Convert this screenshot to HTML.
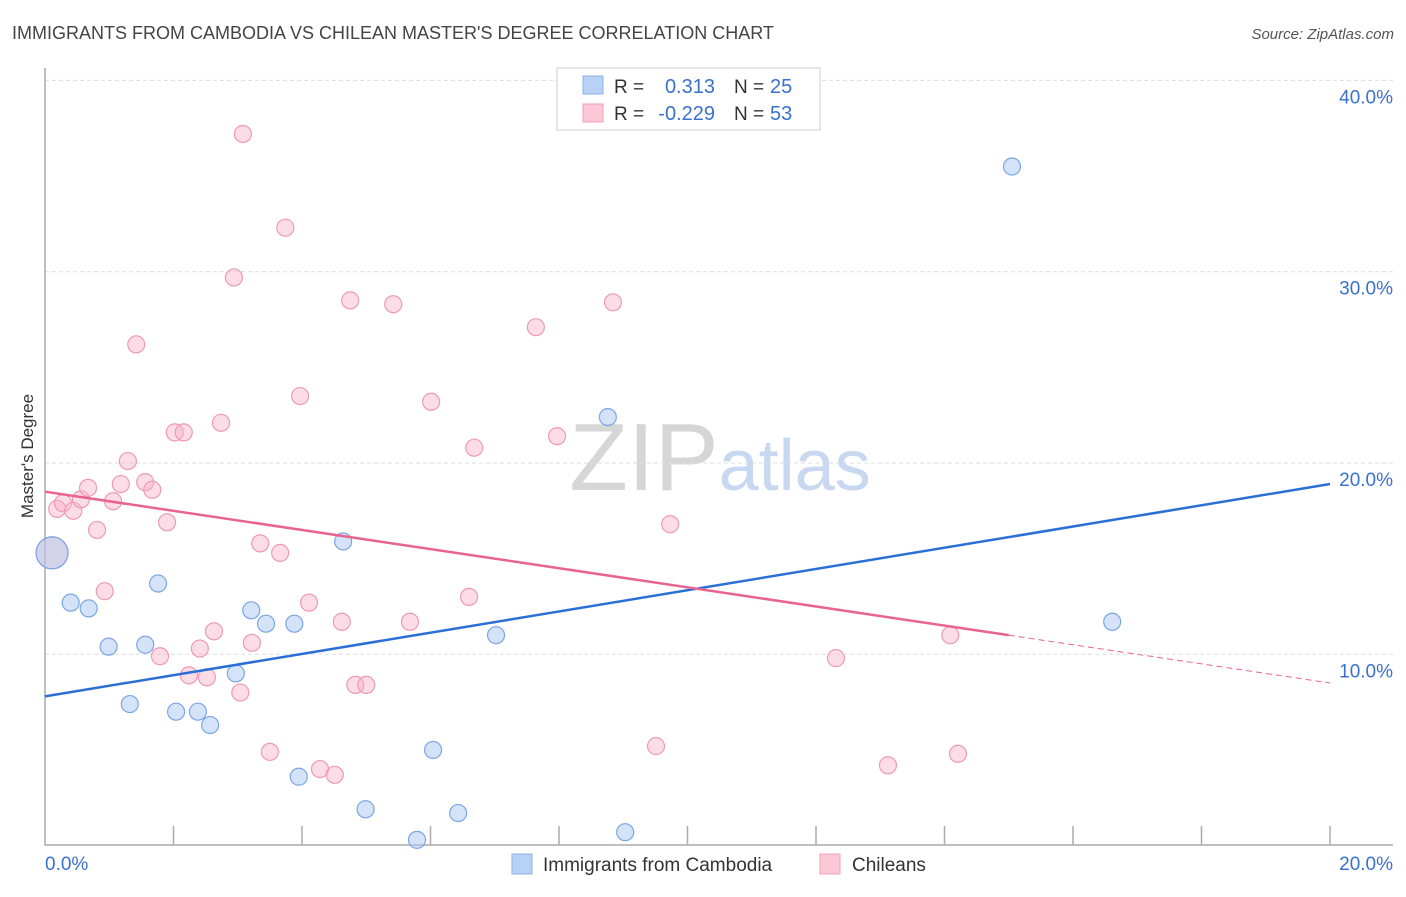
<!DOCTYPE html>
<html><head><meta charset="utf-8"><style>
body{margin:0;background:#fff;font-family:"Liberation Sans",sans-serif;}
svg text{font-family:"Liberation Sans",sans-serif;}
</style></head><body>
<svg id="chart" width="1406" height="892" xmlns="http://www.w3.org/2000/svg">
<text x="12" y="39" font-size="18" fill="#444">IMMIGRANTS FROM CAMBODIA VS CHILEAN MASTER'S DEGREE CORRELATION CHART</text>
<text x="1394" y="39" font-size="15" fill="#555" text-anchor="end" font-style="italic">Source: ZipAtlas.com</text>
<text transform="translate(33,456) rotate(-90)" font-size="17" fill="#333" text-anchor="middle">Master's Degree</text>
<text x="720" y="490" font-size="96" fill="#ddd" text-anchor="middle" font-family="Liberation Serif"><tspan fill="#d6d6d6">ZIP</tspan><tspan fill="#c8d8f0" font-family="Liberation Sans" font-size="72">atlas</tspan></text>
<g id="grid"></g><g id="axes"></g><g id="pts"></g><g id="lines"></g>
<g>
<rect x="557" y="68" width="263" height="62" fill="#fff" stroke="#ccc"/>
<rect x="583" y="76" width="20" height="18" fill="#b8d2f5" stroke="#8ab0e8"/>
<rect x="583" y="104" width="20" height="18" fill="#fcc7d6" stroke="#f0a0b8"/>
<text x="614" y="93" font-size="19" fill="#333">R = </text><text x="715" y="93" font-size="20" fill="#3a70d0" text-anchor="end">0.313</text>
<text x="734" y="93" font-size="19" fill="#333">N = </text><text x="770" y="93" font-size="20" fill="#3a70d0">25</text>
<text x="614" y="120" font-size="19" fill="#333">R = </text><text x="715" y="120" font-size="20" fill="#3a70d0" text-anchor="end">-0.229</text>
<text x="734" y="120" font-size="19" fill="#333">N = </text><text x="770" y="120" font-size="20" fill="#3a70d0">53</text>
</g>
<g>
<rect x="512" y="854" width="20" height="20" fill="#b8d2f5" stroke="#8ab0e8"/>
<text x="543" y="871" font-size="19" fill="#333">Immigrants from Cambodia</text>
<rect x="820" y="854" width="20" height="20" fill="#fcc7d6" stroke="#f0a0b8"/>
<text x="852" y="871" font-size="19" fill="#333">Chileans</text>
</g>
</svg>
<script>
const yTicks=[10,20,30,40];
const yTickLabels=["10.0%","20.0%","30.0%","40.0%"];
const xTickLabels=["0.0%","20.0%"];
const blueX=[0.11,0.40,0.68,0.99,1.32,1.56,1.76,2.04,2.38,2.57,2.97,3.21,3.44,3.88,3.95,4.64,4.99,5.79,6.04,6.43,7.02,8.76,9.03,15.05,16.61];
const blueY=[15.3,12.7,12.4,10.4,7.4,10.5,13.7,7.0,7.0,6.3,9.0,12.3,11.6,11.6,3.6,15.9,1.9,0.3,5.0,1.7,11.0,22.4,0.7,35.5,11.7];
const pinkX=[0.11,0.19,0.28,0.44,0.56,0.67,0.81,0.93,1.06,1.18,1.29,1.42,1.56,1.67,1.79,1.90,2.02,2.16,2.24,2.41,2.52,2.63,2.74,2.94,3.04,3.08,3.22,3.35,3.50,3.66,3.74,3.97,4.11,4.28,4.51,4.62,4.75,4.83,5.00,5.42,5.68,6.01,6.60,6.68,7.64,7.97,8.84,9.51,9.73,12.31,13.12,14.09,14.21];
const pinkY=[15.3,17.6,17.9,17.5,18.1,18.7,16.5,13.3,18.0,18.9,20.1,26.2,19.0,18.6,9.9,16.9,21.6,21.6,8.9,10.3,8.8,11.2,22.1,29.7,8.0,37.2,10.6,15.8,4.9,15.3,32.3,23.5,12.7,4.0,3.7,11.7,28.5,8.4,8.4,28.3,11.7,23.2,13.0,20.8,27.1,21.4,28.4,5.2,16.8,9.8,4.2,11.0,4.8];
const blueLine=[0,7.8,20,18.9];
const pinkLine=[0,18.5,15,11.0,20,8.5];
const X=v=>45+v*64.25, Y=v=>845.6-v*19.13;
const NS="http://www.w3.org/2000/svg";
function mk(t,a,p){const e=document.createElementNS(NS,t);for(const k in a)e.setAttribute(k,a[k]);p.appendChild(e);return e;}
const grid=document.getElementById('grid'),axes=document.getElementById('axes'),pts=document.getElementById('pts'),lines=document.getElementById('lines');
yTicks.forEach((t,i)=>{
 const l=mk('line',{x1:45,x2:1393,y1:Y(t),y2:Y(t),stroke:'#ddd','stroke-dasharray':'4,3'},grid);
 
 
 const tx=mk('text',{x:1393,y:Y(t)+23,'font-size':19,fill:'#3a70d0','text-anchor':'end'},grid);
 tx.textContent=yTickLabels[i];
 
 
});
const ax=mk('path',{d:'M45,68V845H1393',stroke:'#aaa',fill:'none','stroke-width':1.5},axes);


for(let i=1;i<=10;i++){const t=mk('line',{x1:X(i*2),x2:X(i*2),y1:826,y2:845,stroke:'#aaa','stroke-width':1.5},axes);
 
 }
[[0,'start',45],[20,'end',1393]].forEach((d,i)=>{const t=mk('text',{x:d[2],y:870,'font-size':19,fill:'#3a70d0','text-anchor':d[1]},axes);t.textContent=xTickLabels[i];
 
 });
function dots(xs,ys,fill,stroke,name){xs.forEach((x,i)=>{const r=i===0?16:8.5;const c=mk('circle',{cx:X(x),cy:Y(ys[i]),r:r,fill:fill,stroke:stroke,'stroke-width':1.2},pts);
 
 });}
dots(pinkX,pinkY,'rgba(249,180,200,0.45)','#ee9ab4','chilean-point');
dots(blueX,blueY,'rgba(170,200,240,0.5)','#7aa6e6','cambodia-point');
const bl=mk('line',{x1:X(blueLine[0]),y1:Y(blueLine[1]),x2:X(blueLine[2]),y2:Y(blueLine[3]),stroke:'#2a6fd6','stroke-width':2.5},lines);


const pl=mk('line',{x1:X(pinkLine[0]),y1:Y(pinkLine[1]),x2:X(pinkLine[2]),y2:Y(pinkLine[3]),stroke:'#e8648f','stroke-width':2.5},lines);


const pd=mk('line',{x1:X(pinkLine[2]),y1:Y(pinkLine[3]),x2:X(pinkLine[4]),y2:Y(pinkLine[5]),stroke:'#e8648f','stroke-width':1,'stroke-dasharray':'6,4'},lines);


</script>
</body></html>
